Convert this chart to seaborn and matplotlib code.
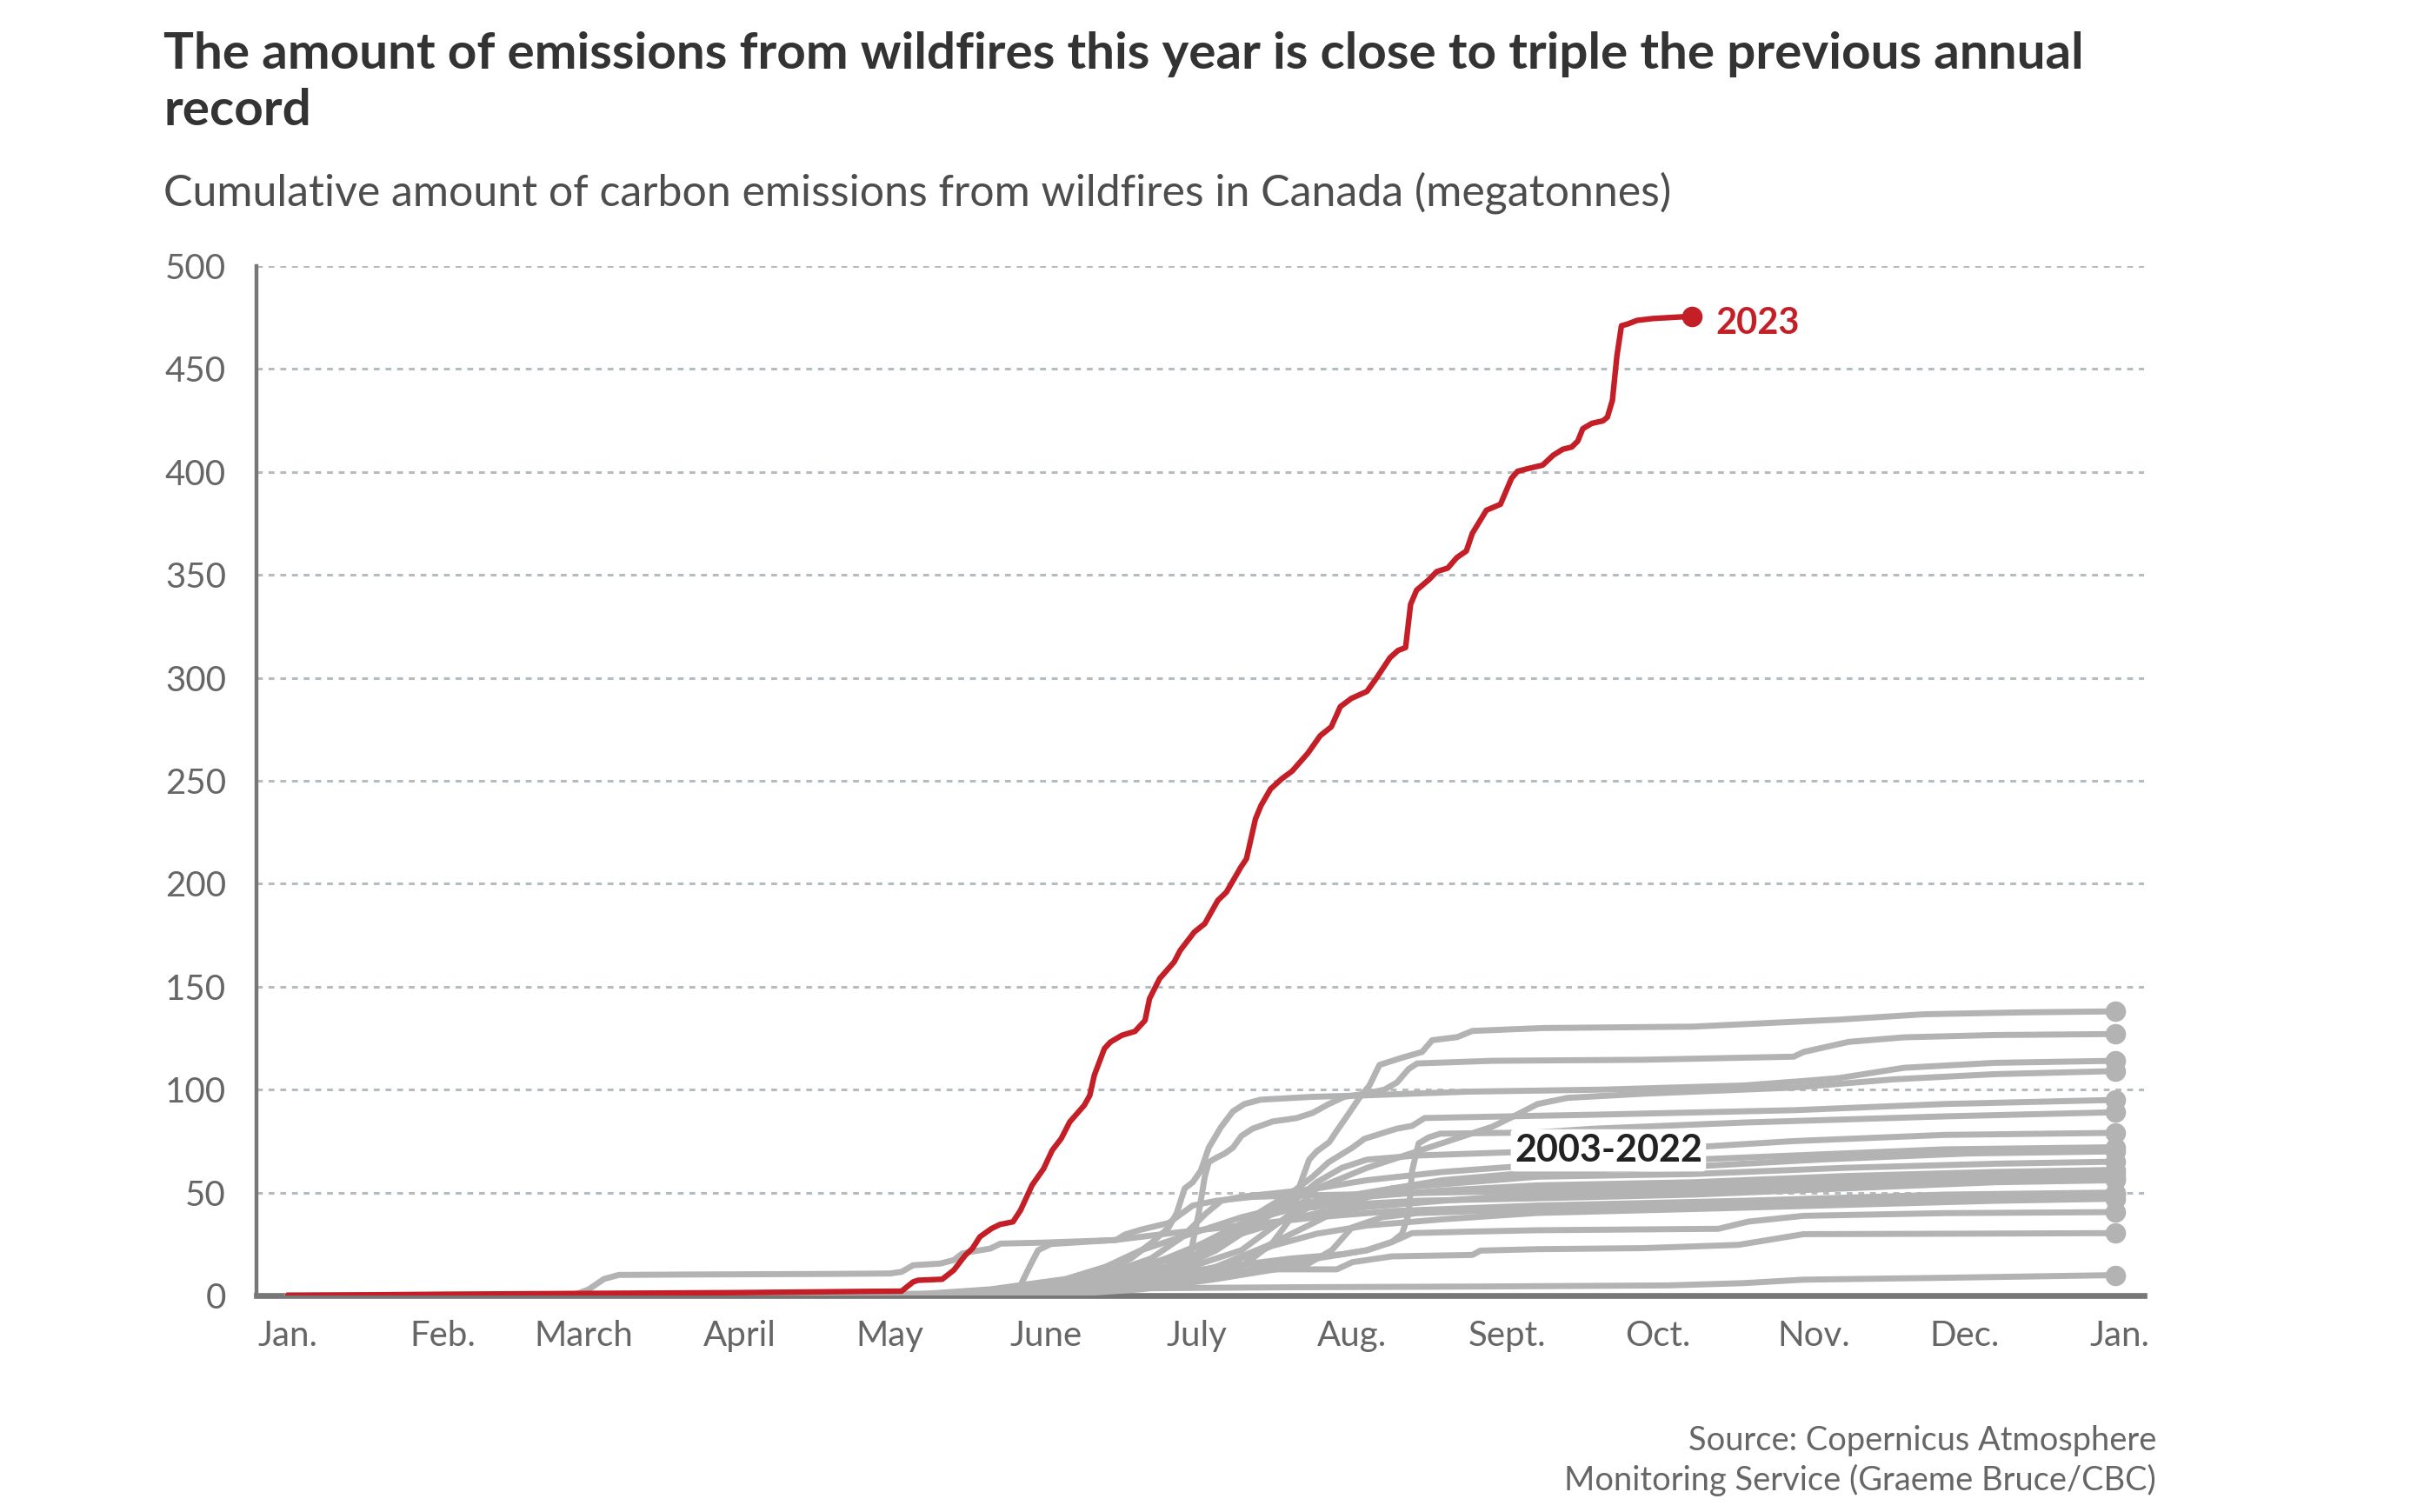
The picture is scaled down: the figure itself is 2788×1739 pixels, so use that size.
import matplotlib
matplotlib.use("Agg")
import matplotlib.pyplot as plt
import numpy as np
import pandas as pd
import seaborn as sns

# --- data: day of year (0 = Jan. 1) and cumulative megatonnes ---
red_days = [0, 31, 59, 90, 115.9, 122.3, 124.6, 125.6, 130.4,
            132.7, 135.0, 136.4, 137.9, 140.2, 141.9, 144.5, 146.0, 148.3, 150.6,
            152.3, 154.1, 155.8, 158.7, 159.8, 160.7, 162.7, 163.9, 166.2, 168.8,
            170.8, 171.7, 173.7, 176.6, 177.8, 180.6, 182.7, 185.3, 187.0, 189.9,
            191.0, 192.8, 193.9, 195.8, 198.0, 200.1, 203.2, 205.7, 207.9, 209.7,
            211.9, 215.0, 216.8, 219.6, 221.2, 222.7, 223.7, 224.9, 227.4, 228.9,
            231.1, 232.9, 234.8, 236.0, 238.8, 241.6, 243.8, 245.0, 247.2, 250.0,
            252.1, 254.0, 255.8, 257.0, 258.0, 259.8, 262.0, 262.9, 263.9, 264.8,
            265.7, 267.0, 268.8, 271.9, 277.5, 279.8]
red_vals = [0, 0.6, 1.0, 1.4, 2.0, 2.1, 6.6, 7.4, 7.9,
            12.3, 19.6, 22.8, 28.5, 32.5, 34.5, 35.8, 41.4, 53.6, 61.6,
            70.5, 76.2, 84.3, 92.4, 97.2, 107.0, 119.9, 123.1, 126.4, 128.3,
            133.6, 144.2, 153.9, 162.0, 167.6, 176.5, 180.6, 191.9, 195.9, 208.1,
            212.1, 231.5, 238.0, 246.0, 250.9, 254.7, 263.3, 271.9, 276.2, 286.0,
            290.0, 293.4, 299.5, 309.8, 313.3, 314.7, 335.7, 342.6, 347.8, 351.6,
            353.3, 358.4, 361.6, 370.2, 381.4, 384.3, 396.9, 400.3, 401.7, 403.3,
            408.1, 411.0, 412.1, 415.0, 421.0, 423.6, 424.8, 426.6, 434.8, 456.4,
            471.0, 471.9, 473.6, 474.5, 475.3, 475.4]

# 2003-2022, one list of days and one of values per year-line
hist_days = [
    [0, 130, 150, 165, 175, 185, 193, 199, 201, 202, 203.5, 205, 207.5, 209, 211, 213.5, 215.5, 217.5, 222, 226, 228, 233, 236, 250, 280, 309, 326, 345, 364],
    [0, 135, 155, 165, 175, 180, 181.5, 182.7, 183.5, 185, 186.7, 188.3, 190, 192.2, 196.2, 201, 204.2, 207.4, 210.5, 214.5, 218.5, 221, 223.3, 225, 240, 270, 300, 302, 311, 322, 340, 364],
    [0, 135, 150, 160, 168, 172.3, 175.5, 177.1, 178.7, 180.3, 181.9, 183.5, 185.9, 188.3, 190.6, 193.8, 204.2, 214.5, 235, 262, 290, 302, 309, 322, 340, 364],
    [0, 140, 160, 175, 190, 200, 205, 210, 215, 220, 225, 230, 235, 240, 245, 249, 255, 270, 300, 320, 340, 364],
    [0, 140, 155, 165, 178, 190, 196, 200, 204.2, 207.4, 212.1, 214.5, 220.9, 224, 226.5, 249, 260, 300, 330, 364],
    [0, 145, 160, 170, 180, 190, 200, 210, 215, 220, 222, 223.3, 224, 225.3, 227.3, 229.6, 249, 260, 290, 330, 364],
    [0, 140, 155, 170, 180, 190, 195, 200, 205, 210, 215, 225, 249, 280, 300, 330, 364],
    [0, 130, 150, 165, 172, 178, 183, 186, 190, 198, 205, 215, 230, 249, 270, 300, 330, 364],
    [0, 145, 160, 175, 185, 195, 205, 212, 220, 230, 249, 275, 305, 335, 364],
    [0, 125, 140, 155, 163, 170, 180, 190, 200, 210, 220, 235, 249, 280, 310, 340, 364],
    [0, 150, 165, 180, 190, 196, 200, 205, 215, 230, 249, 280, 310, 340, 364],
    [0, 57, 60, 63, 66, 80, 110, 120, 122.3, 124.6, 130, 132.7, 134.4, 136, 140, 142, 150.6, 165, 166.8, 170, 175.5, 180.3, 185, 192.2, 200, 215, 230, 249, 280, 310, 340, 364],
    [0, 150, 160, 170, 178, 185, 190, 198, 205, 215, 230, 249, 280, 310, 340, 364],
    [0, 140, 155, 168, 176, 182, 188, 194, 200, 210, 225, 249, 280, 310, 340, 364],
    [0, 130, 140, 146, 148, 149.5, 152, 165, 175, 190, 205, 220, 249, 290, 330, 364],
    [0, 155, 170, 185, 195, 203, 208, 212, 218, 225, 249, 280, 320, 364],
    [0, 145, 160, 172, 180, 188, 196, 205, 215, 230, 249, 280, 310, 340, 364],
    [0, 150, 165, 180, 195, 205, 215, 220, 224, 235, 249, 285, 291, 302, 330, 364],
    [0, 150, 170, 185, 194.6, 209, 212.1, 220, 236, 237.6, 249, 270, 289, 295, 302, 330, 364],
    [0, 130, 150, 170, 200, 240, 275, 290, 302, 330, 364],
]
hist_vals = [
    [0, 0.5, 3, 10, 18, 28, 38, 46, 49, 56, 66, 70, 74.5, 80, 87, 96, 102, 112, 115.5, 118.3, 124, 125.5, 128.5, 129.9, 130.6, 134, 136.6, 137.5, 138],
    [0, 0.5, 3, 7, 14, 22, 40, 57.7, 64.8, 66.9, 69, 71.8, 77.5, 81, 84.5, 86.2, 88.7, 93, 96.5, 97.9, 100, 103.5, 110, 112.7, 114, 114.5, 116, 118.3, 123.2, 125.4, 126.5, 127],
    [0, 0.5, 3, 8, 18, 26, 33, 40, 52, 55, 60.6, 71.8, 81.7, 89.4, 93, 95.1, 96.5, 97.2, 99, 100, 102, 104.2, 105.6, 110.6, 113, 114],
    [0, 0.5, 4, 10, 22, 40, 52, 57, 62, 66, 70, 74, 78, 82, 88, 93, 96, 98, 101, 105, 107.5, 109],
    [0, 0.5, 3, 8, 20, 35, 44, 50, 57.7, 64.8, 71.8, 76.1, 81, 82.4, 86.2, 87.3, 87.8, 90, 93, 95],
    [0, 0.5, 3, 7, 12, 15, 18, 20, 22, 26, 30, 39.4, 60.6, 73.9, 76.8, 78.6, 79.2, 81, 84, 87, 89],
    [0, 0.5, 4, 10, 18, 30, 38, 45, 55, 62, 66, 68, 70, 72, 75, 78, 79],
    [0, 0.5, 5, 12, 18, 28, 40, 46, 48, 50, 52, 56, 60, 63.4, 65, 68, 71, 72],
    [0, 0.5, 3, 8, 14, 24, 36, 45, 52, 56, 60, 62, 66, 69, 70],
    [0, 0.5, 3, 8, 14, 22, 30, 38, 44, 48, 52, 55, 57.7, 59, 62, 64, 65],
    [0, 0.5, 3, 8, 14, 25, 38, 45, 48, 51, 53.5, 55, 58, 60, 61],
    [0, 0.2, 3, 8, 10, 10.2, 10.5, 10.7, 11.5, 14.7, 15.5, 17.2, 20.4, 21.2, 22.8, 25.2, 25.7, 26.9, 29.6, 32, 35.2, 43.7, 46, 47.9, 48.5, 49.2, 50, 51, 53, 56, 58, 59],
    [0, 0.5, 2, 6, 14, 22, 30, 36, 40, 43, 46, 49.3, 51, 54, 56, 57],
    [0, 0.5, 3, 7, 12, 22, 30, 38, 42, 44, 46, 47.2, 49, 52, 55, 56],
    [0, 0.3, 2, 5, 15, 22, 25, 27, 30, 34, 38, 41, 43.7, 46, 49, 50],
    [0, 0.5, 3, 8, 12, 15, 22, 33, 38, 40, 42, 44, 47, 49],
    [0, 0.5, 2, 5, 9, 16, 24, 30, 34, 37, 40.1, 42, 44, 46, 47],
    [0, 0.5, 3, 8, 14, 18, 22, 26, 30.3, 31, 31.7, 32.4, 35.9, 38.7, 40, 40.5],
    [0, 1, 5, 10, 12.7, 12.7, 16.2, 19, 19.7, 21.8, 22.5, 23, 24.6, 27, 29.8, 30, 30.3],
    [0, 0.5, 2, 3.5, 4, 4.4, 4.9, 6, 7.7, 8.6, 9.9],
]

month_starts = [0, 31, 59, 90, 120, 151, 181, 212, 243, 273, 304, 334, 365]
month_labels = ["Jan.", "Feb.", "March", "April", "May", "June", "July",
                "Aug.", "Sept.", "Oct.", "Nov.", "Dec.", "Jan."]
y_ticks = [0, 50, 100, 150, 200, 250, 300, 350, 400, 450, 500]

# --- long-form tables for seaborn ---
hist_df = pd.concat(
    [pd.DataFrame({"day": d, "value": v, "series": i})
     for i, (d, v) in enumerate(zip(hist_days, hist_vals))],
    ignore_index=True)
hist_end = hist_df.groupby("series").tail(1)
red_df = pd.DataFrame({"day": red_days, "value": red_vals})

GRAY = "#b3b3b3"
RED = "#c41f26"
AXIS = "#777777"

sns.set_theme(style="white")
plt.rcParams["font.family"] = ["Lato", "DejaVu Sans"]

W, H = 2788, 1739
fig = plt.figure(figsize=(W / 200, H / 200), dpi=200)
ax = fig.add_axes([295 / W, 1 - 1490 / H, (2466 - 295) / W, (1490 - 306) / H])

sns.lineplot(data=hist_df, x="day", y="value", units="series", estimator=None,
             color=GRAY, linewidth=2.5, sort=False, legend=False, ax=ax,
             solid_joinstyle="round", solid_capstyle="round", zorder=3)
sns.scatterplot(data=hist_end, x="day", y="value", color=GRAY, s=72,
                linewidth=0, legend=False, ax=ax, zorder=3)
sns.lineplot(data=red_df, x="day", y="value", estimator=None, color=RED,
             linewidth=2.3, sort=False, legend=False, ax=ax,
             solid_joinstyle="round", solid_capstyle="round", zorder=5)
sns.scatterplot(data=red_df.tail(1), x="day", y="value", color=RED, s=72,
                linewidth=0, legend=False, ax=ax, zorder=5)

ax.set_xlim(-6.2, 369.8)
ax.set_ylim(0, 500)
ax.set_xlabel("")
ax.set_ylabel("")

ax.set_xticks(month_starts)
ax.set_xticklabels(month_labels)
ax.set_yticks(y_ticks)
ax.set_yticks([0, 500], minor=True)
ax.tick_params(axis="x", length=0, pad=10, labelsize=14.5, labelcolor="#666666")
ax.tick_params(axis="y", which="major", length=0, pad=12.6, labelsize=14.5,
               labelcolor="#666666")
ax.tick_params(axis="y", which="minor", length=5.5, width=2.0, color=AXIS, left=True)

ax.yaxis.grid(True, color="#b4bcc2", linestyle=(0, (2.2, 2.2)), linewidth=1.1)
ax.xaxis.grid(False)
ax.set_axisbelow(True)

for side in ["top", "right"]:
    ax.spines[side].set_visible(False)
ax.spines["left"].set_color(AXIS)
ax.spines["left"].set_linewidth(1.6)
ax.spines["bottom"].set_color(AXIS)
ax.spines["bottom"].set_linewidth(2.4)
ax.spines["bottom"].set_zorder(2)

# labels on the lines
ax.text(284.4, 472, "2023", color=RED, fontsize=15, fontweight="bold",
        ha="left", va="center")
ax.text(263.1, 70.5, "2003-2022", color="#222222", fontsize=15.5,
        fontweight="bold", ha="center", va="center", zorder=6,
        bbox=dict(boxstyle="round,pad=0.1", fc="white", ec="none"))

# titles and source
fig.text(188 / W, 1 - 95 / H,
         "The amount of emissions from wildfires this year is close to triple the previous annual\nrecord",
         fontsize=21, fontweight="bold", color="#333333", ha="left", va="center",
         linespacing=1.27)
fig.text(188 / W, 1 - 222 / H,
         "Cumulative amount of carbon emissions from wildfires in Canada (megatonnes)",
         fontsize=18, color="#4d4d4d", ha="left", va="center")
fig.text(2480 / W, 1 - 1680 / H,
         "Source: Copernicus Atmosphere\nMonitoring Service (Graeme Bruce/CBC)",
         fontsize=13.7, color="#666666", ha="right", va="center",
         multialignment="right", linespacing=1.3)

fig.savefig("out.png", dpi=200, facecolor="white")
